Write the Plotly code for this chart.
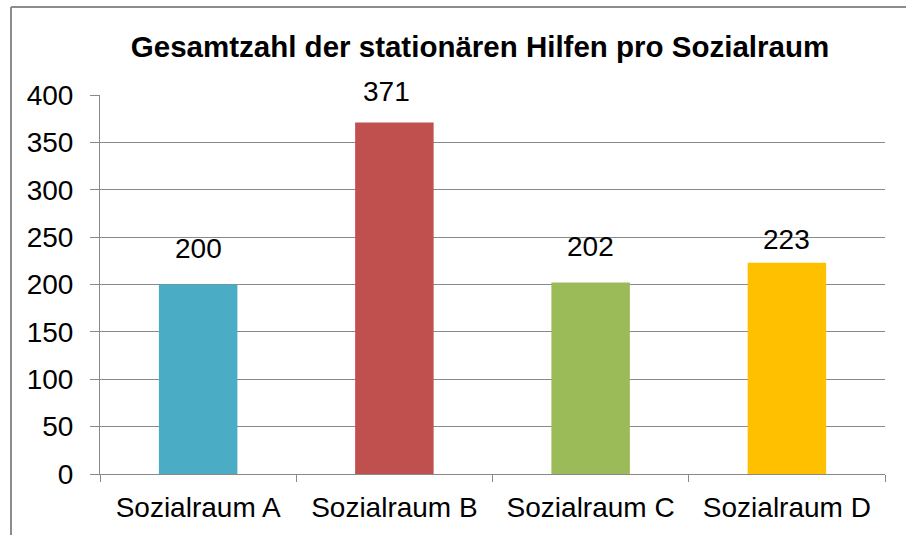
import plotly.graph_objects as go

categories = ["Sozialraum A", "Sozialraum B", "Sozialraum C", "Sozialraum D"]
values = [200, 371, 202, 223]
colors = ["#4BACC6", "#C0504D", "#9BBB59", "#FFC000"]
y_ticks = [0, 50, 100, 150, 200, 250, 300, 350, 400]
title_text = "Gesamtzahl der stationären Hilfen pro Sozialraum"

# placement of the value labels (pixel offsets as in the original)
label_xshift = [0, -8, 0, 0]
label_yshift = [19, 13, 19, 6]

FONT = "Liberation Sans, Arial, sans-serif"
GRID = "#898989"

fig = go.Figure()
fig.add_trace(go.Bar(
    x=categories, y=values, marker=dict(color=colors, line=dict(width=0)),
    width=0.4, showlegend=False, hoverinfo="skip",
))

for c, v, dx, dy in zip(categories, values, label_xshift, label_yshift):
    fig.add_annotation(x=c, y=v, text=str(v), showarrow=False,
                       yanchor="bottom", yshift=dy, xshift=dx,
                       font=dict(family=FONT, size=28, color="#000000"))

fig.update_layout(
    width=906, height=535,
    margin=dict(l=100, r=21, t=95, b=61),
    paper_bgcolor="white", plot_bgcolor="white",
    title=dict(text="<b>" + title_text + "</b>", x=480/906, xanchor="center",
               xref="container", y=1-47/535, yanchor="middle", yref="container",
               font=dict(family=FONT, size=29.5, color="#000000")),
    font=dict(family=FONT, size=28, color="#000000"),
    bargap=0.6,
)
fig.update_yaxes(
    range=[0, 400], tickvals=y_ticks, showgrid=True, gridcolor=GRID, gridwidth=1,
    showline=True, linecolor=GRID, linewidth=1, ticks="outside", ticklen=9,
    tickcolor=GRID, ticklabelstandoff=11, zeroline=False,
    tickfont=dict(family=FONT, size=28, color="#000000"), fixedrange=True,
)
fig.update_xaxes(
    showline=True, linecolor=GRID, linewidth=1, ticks="outside", ticklen=7,
    tickcolor=GRID, tickson="boundaries", showgrid=False, ticklabelstandoff=8,
    tickfont=dict(family=FONT, size=28, color="#000000"), fixedrange=True,
)

# outer chart border (partially cropped)
fig.add_shape(type="line", xref="paper", yref="paper",
              x0=(11-100)/785, x1=(11-100)/785, y0=(474-7)/379, y1=(474-540)/379,
              line=dict(color="#8C8C8C", width=2))
fig.add_shape(type="line", xref="paper", yref="paper",
              x0=(11-100)/785, x1=(910-100)/785, y0=(474-7)/379, y1=(474-7)/379,
              line=dict(color="#8C8C8C", width=2))

fig.write_html("out.html", config={"displayModeBar": False, "staticPlot": True},
               post_script="document.body.style.margin='0';document.body.style.overflow='hidden';")
